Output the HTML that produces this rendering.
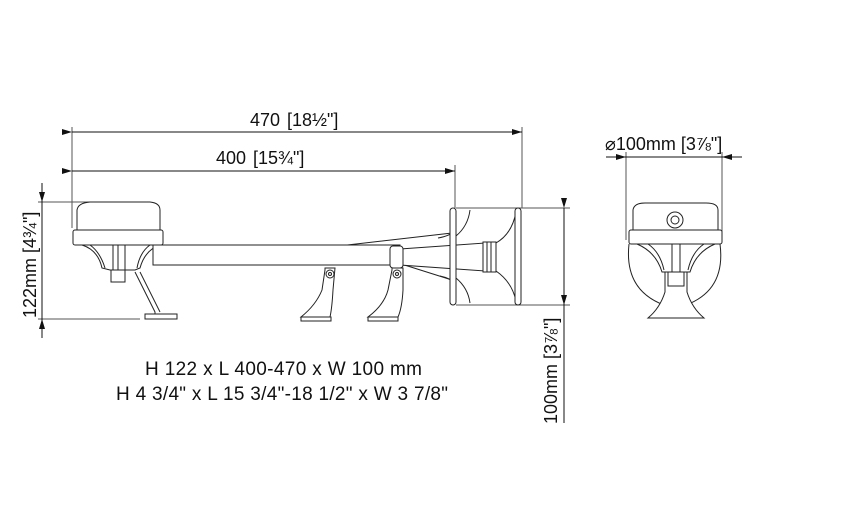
<!DOCTYPE html>
<html><head><meta charset="utf-8"><style>
html,body{margin:0;padding:0;background:#fff;}
svg{display:block;}
text{font-family:"Liberation Sans",Arial,sans-serif;fill:#111;}
</style></head><body>
<svg width="860" height="528" viewBox="0 0 860 528" xmlns="http://www.w3.org/2000/svg">
<defs>
<marker id="a" viewBox="0 0 10 6" refX="10" refY="3" markerWidth="12" markerHeight="6" orient="auto" markerUnits="userSpaceOnUse"><path d="M0,0 L10,3 L0,6z" fill="#111"/></marker>
</defs>
<g stroke="#555" stroke-width="1" fill="none">
<line x1="72" y1="127" x2="72" y2="228"/>
<line x1="522" y1="127" x2="522" y2="208"/>
<line x1="455" y1="165" x2="455" y2="208"/>
<line x1="72" y1="132" x2="522" y2="132" marker-start="url(#a)" marker-end="url(#a)" stroke="#111"/>
<line x1="72" y1="171" x2="455" y2="171" marker-start="url(#a)" marker-end="url(#a)" stroke="#111"/>
<line x1="38" y1="202" x2="135" y2="202"/>
<line x1="38" y1="319" x2="140" y2="319"/>
<line x1="42" y1="183" x2="42" y2="202" marker-end="url(#a)" stroke="#111"/>
<line x1="42" y1="338" x2="42" y2="319" marker-end="url(#a)" stroke="#111"/>
<line x1="42" y1="202" x2="42" y2="319" stroke="#111"/>
<line x1="456" y1="208" x2="570" y2="208"/>
<line x1="456" y1="305" x2="570" y2="305"/>
<line x1="564" y1="208" x2="564" y2="305" marker-start="url(#a)" marker-end="url(#a)" stroke="#111"/>
<line x1="564" y1="305" x2="564" y2="423" stroke="#111"/>
<line x1="626" y1="152" x2="626" y2="240"/>
<line x1="722" y1="152" x2="722" y2="240"/>
<line x1="606" y1="157" x2="626" y2="157" marker-end="url(#a)" stroke="#111"/>
<line x1="742" y1="157" x2="722" y2="157" marker-end="url(#a)" stroke="#111"/>
<line x1="626" y1="157" x2="722" y2="157" stroke="#111"/>
</g>
<g stroke="#222" stroke-width="1" fill="#fff">
<!-- left lamp -->
<path d="M77,230 L77,210 Q78,203 90,202 L150,202 Q160,203 160,210 L160,230z"/>
<rect x="73" y="230" width="90" height="15" rx="2"/>
<path d="M82,245 Q98,250 102,268 L110,270 L135,270 L140,268 Q145,250 160,245z"/>
<path d="M90,245 Q100,252 105,268 M150,245 Q140,252 137,268 M113,245 L113,270 M118,245 L118,270 M125,245 L125,270" fill="none"/>
<rect x="111" y="270" width="14" height="12"/>
<path d="M135,272 L155,312 L155,318" fill="none"/>
<path d="M140,272 L160,312" fill="none"/>
<rect x="145" y="314" width="32" height="5"/>
<!-- back horn (thin) -->
<path d="M330,247 L452,233 M395,262 L452,280" fill="none"/>
<path d="M438,238 Q450,236 456,230 M440,276 Q450,278 456,284" fill="none"/>
<!-- bar -->
<rect x="153" y="245" width="247" height="20"/>
<!-- front horn tube -->
<path d="M400,249 L485,243 L485,271 L400,265z"/>
<rect x="483" y="242" width="13" height="30"/>
<line x1="487" y1="242" x2="487" y2="272"/><line x1="491" y1="242" x2="491" y2="272"/>
<path d="M456,236 Q468,226 470,210 M456,278 Q468,288 470,303" fill="none"/>
<path d="M496,243 Q512,234 516,212 M496,271 Q512,282 516,301" fill="none"/>
<rect x="450" y="208" width="6" height="97" rx="3"/>
<rect x="515" y="208" width="6" height="97" rx="3"/>
<rect x="390" y="246" width="13" height="22" rx="3"/>
<!-- brackets -->
<path d="M325,268 L335,268 L333,290 Q332,308 330,317 L301,317 Q316,305 322,290 L325,270z"/>
<circle cx="330" cy="274" r="4"/><circle cx="330" cy="274" r="1.5"/>
<rect x="301" y="317" width="30" height="4"/>
<path d="M392,268 L403,268 L403,290 Q402,308 398,317 L368,317 Q384,305 388,290 L392,270z"/>
<circle cx="397" cy="274" r="4"/><circle cx="397" cy="274" r="1.5"/>
<rect x="368" y="317" width="30" height="4"/>
<!-- right view -->
<path d="M629,244 Q624,290 664,305 L686,305 Q726,290 720,244" fill="none"/>
<path d="M633,230 L633,210 Q634,203 645,203 L706,203 Q718,203 718,210 L718,230z"/>
<circle cx="675" cy="220" r="8"/><circle cx="675" cy="220" r="4"/>
<rect x="629" y="230" width="93" height="14" rx="2"/>
<path d="M637,244 Q656,252 662,272 L690,272 Q696,252 715,244z"/>
<path d="M648,244 Q660,252 664,270 M704,244 Q692,252 688,270 M672,244 L672,272 M680,244 L680,272" fill="none"/>
<path d="M665,272 L665,292 Q660,308 648,318 L704,318 Q692,308 687,292 L687,272z"/>
<rect x="668" y="272" width="16" height="14"/>
</g>
<text x="250" y="126" font-size="18">470</text>
<text x="287" y="126" font-size="18">[18½"]</text>
<text x="216" y="164" font-size="18">400</text>
<text x="253" y="164" font-size="18">[15¾"]</text>
<text x="605" y="150" font-size="18">⌀100mm [3⅞"]</text>
<text transform="translate(36,318) rotate(-90)" font-size="18">122mm [4¾"]</text>
<text transform="translate(557,424) rotate(-90)" font-size="18">100mm [3⅞"]</text>
<text x="145" y="375" font-size="19" textLength="277">H 122 x L 400-470 x W 100 mm</text>
<text x="116" y="400" font-size="19" textLength="332">H 4 3/4" x L 15 3/4"-18 1/2" x W 3 7/8"</text>
</svg>
</body></html>
